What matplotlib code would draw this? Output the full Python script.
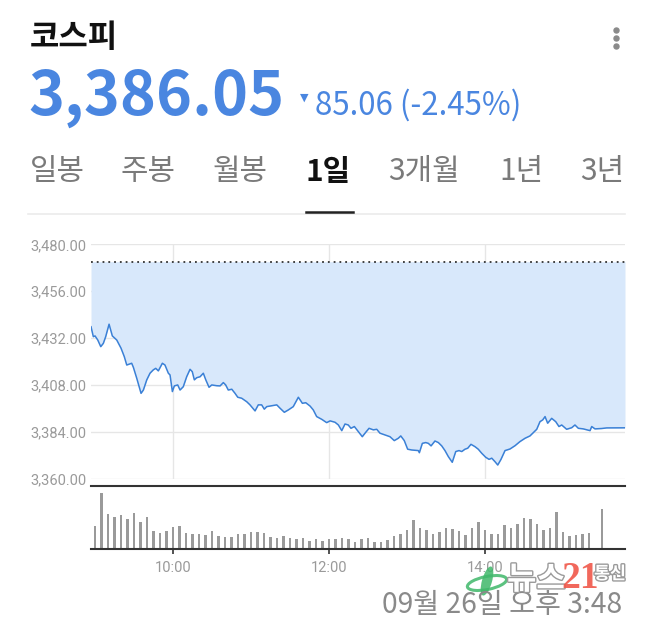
import matplotlib.pyplot as plt
import matplotlib.patheffects as pe
from matplotlib.lines import Line2D
from matplotlib.patches import Ellipse

W, H = 650, 619
KR = ['Noto Sans CJK KR', 'DejaVu Sans']

# intraday KOSPI, minutes after 09:00
times = [-3.1, -1.3, 0, 2.1, 4.4, 6.4, 8.2, 10.8, 13.3, 16.7, 20, 22.5, 24.4,
         28.2, 29.5, 32.1, 35.4, 37.2, 39.8, 42.3, 44.8, 46.7, 48.7, 51.8,
         53.8, 56.4, 57.7, 59.5, 61, 63.6, 65.4, 67.9, 70.5, 73.1, 74.8, 76.4,
         78.2, 80.8, 83.3, 85.2, 87.7, 89.8, 93.6, 96.2, 98.7, 100.5, 102.5,
         105.2, 107.7, 109.8, 112.8, 116.7, 119.2, 123.1, 125.6, 128.2, 130.2,
         132.1, 134.6, 139.8, 142.3, 145.6, 148.7, 152.5, 156.4, 159.5, 162.1,
         165.4, 167.9, 170.5, 174.4, 178.2, 180.8, 184.6, 187.2, 189.8, 192.3,
         194.8, 196.9, 199.5, 202.5, 205.6, 207.7, 210.8, 214.1, 216.7, 219.2,
         223.1, 226.9, 230.2, 233.3, 235.2, 237.9, 240.5, 243.6, 248.7, 249.5,
         251.8, 254.4, 256.4, 258.5, 261.5, 264.1, 266.7, 269.2, 271.8, 274.8,
         277.5, 280, 282.1, 284.6, 286.7, 289.2, 292.3, 294.8, 297.5, 300.5,
         303.1, 305.2, 307.7, 309.8, 312.3, 315.4, 319.2, 323.1, 326.9, 330.8,
         334.6, 337.2, 339.8, 342.3, 344.4, 346.2, 348.2, 351.3, 354.4, 356.9,
         359, 362.8, 366.7, 369.2, 371.8, 375.6, 379, 380.8, 382.1, 384.6,
         389.8, 393.6, 407.7]
prices = [3437.8, 3432.7, 3433.1, 3431.0, 3427.6, 3429.3, 3432.7, 3439.1,
          3433.1, 3431.0, 3426.8, 3422.5, 3418.2, 3419.1, 3417.0, 3411.4,
          3403.7, 3405.4, 3410.6, 3414.0, 3415.7, 3416.5, 3415.2, 3419.1,
          3418.2, 3414.0, 3413.1, 3404.6, 3407.5, 3408.0, 3405.4, 3407.1,
          3412.2, 3416.0, 3414.8, 3410.6, 3411.7, 3412.2, 3414.0, 3410.6,
          3406.8, 3408.0, 3407.6, 3407.5, 3409.2, 3408.0, 3405.4, 3405.8,
          3403.7, 3401.7, 3401.2, 3399.4, 3397.8, 3394.7, 3397.8, 3397.8,
          3395.6, 3396.9, 3397.2, 3397.8, 3396.1, 3394.0, 3395.2, 3396.9,
          3401.7, 3398.6, 3398.9, 3397.2, 3395.2, 3391.8, 3390.4, 3388.7,
          3389.6, 3388.9, 3387.5, 3384.6, 3388.0, 3387.5, 3385.8, 3386.7,
          3384.1, 3381.5, 3383.3, 3385.8, 3385.0, 3385.3, 3383.3, 3382.4,
          3381.5, 3379.5, 3380.7, 3381.9, 3379.5, 3375.1, 3374.7, 3374.4,
          3373.3, 3378.1, 3378.5, 3378.1, 3376.8, 3379.3, 3378.5, 3376.8,
          3374.4, 3371.3, 3368.4, 3373.9, 3374.4, 3373.9, 3375.1, 3375.6,
          3377.6, 3376.4, 3375.1, 3373.0, 3371.0, 3369.9, 3370.5, 3368.7,
          3367.0, 3369.9, 3374.4, 3375.2, 3376.9, 3379.0, 3380.7, 3381.9,
          3383.6, 3385.3, 3389.2, 3390.1, 3391.8, 3388.4, 3390.9, 3389.2,
          3386.7, 3387.5, 3385.3, 3386.1, 3387.5, 3385.8, 3385.5, 3384.9,
          3384.6, 3386.7, 3385.5, 3385.7, 3386.0, 3386.05]
prev_close = 3471.11

# 5-minute volume bars (relative units), last one = closing auction 15:30
vol_times = list(range(0, 385, 5)) + [390]
volumes = [23.3, 56, 35.3, 32, 34.3, 30.3, 36, 27.7, 32, 18.3, 16, 18.3, 22.3,
           23.3, 16.6, 15, 15, 14, 18.3, 13.3, 12.6, 12.6, 15.6, 15.6, 17.3,
           17.3, 16, 12.3, 11, 13.3, 11.6, 10, 11.6, 8.6, 10, 8.6, 10, 10,
           11.6, 10, 7.6, 10.6, 11.6, 7.6, 7.6, 9, 13.3, 15, 19.3, 29.3, 21.6,
           19.3, 15, 17.6, 21.6, 20.3, 18.3, 14, 21.6, 27.6, 19, 15, 15, 24,
           21, 25, 31, 30.3, 25, 19.3, 21.6, 37, 17.3, 13.3, 14.3, 15, 16, 40]

price_ticks = [3360, 3384, 3408, 3432, 3456, 3480]
price_labels = ['3,360.00', '3,384.00', '3,408.00', '3,432.00', '3,456.00', '3,480.00']
time_ticks = [60, 180, 300]
time_labels = ['10:00', '12:00', '14:00']
tabs = ['일봉', '주봉', '월봉', '1일', '3개월', '1년', '3년']
tab_x = [30, 120, 213, 306, 388, 499, 580]

BLUE = '#4a86e0'
LINE = '#3a80d6'
FILL = '#d8e8fb'
GRID = '#e6e6e6'
DARK = '#333333'


def fx(x):
    return x / W


def fy(y):
    return 1 - y / H


fig = plt.figure(figsize=(W / 100, H / 100), dpi=100)

# header
fig.text(fx(30), fy(38), '코스피', family=KR, fontsize=23, fontweight='bold',
         color='#111111', va='center', ha='left')
fig.add_artist(Line2D([fx(616)] * 3, [fy(30), fy(38), fy(46)], ls='', marker='o',
                      ms=3.6, color='#8a8a8a', transform=fig.transFigure))
fig.text(fx(28), fy(115), '3,386.05', family=KR, fontsize=44, fontweight='bold',
         color=BLUE, va='baseline', ha='left')
fig.text(fx(304), fy(98), '▼', family='DejaVu Sans', fontsize=8, color=BLUE,
         va='center', ha='center')
fig.text(fx(315), fy(115), '85.06 (-2.45%)', family=KR, fontsize=22.5,
         color=BLUE, va='baseline', ha='left')

for x, t in zip(tab_x, tabs):
    sel = t == '1일'
    fig.text(fx(x), fy(172), t, family=KR, fontsize=21.5,
             fontweight='bold' if sel else 'normal',
             color='#111111' if sel else '#7a7a7a', va='center', ha='left')
fig.add_artist(Line2D([fx(28), fx(625)], [fy(214), fy(214)], color='#ebebeb',
                      lw=1.2, transform=fig.transFigure))
fig.add_artist(Line2D([fx(306), fx(353)], [fy(212), fy(212)], color='#222222',
                      lw=1.8, transform=fig.transFigure))

# price panel
top, bot = 244.3, 478.7
ax = fig.add_axes([fx(91), fy(bot), (625 - 91) / W, (bot - top) / H])
ax.fill_between(times, prices, prev_close, color=FILL, lw=0)
ax.plot(times, prices, color=LINE, lw=1.1)
ax.axhline(prev_close, color=DARK, lw=1.3, ls=(0, (1, 2.2)))
ax.set_xlim(-3.1, 407.7)
ax.set_ylim(3360, 3480)
ax.set_yticks(price_ticks)
ax.set_yticklabels(price_labels)
ax.set_xticks(time_ticks)
ax.set_xticklabels([])
ax.grid(True, color=GRID, lw=1)
ax.tick_params(length=0)
ax.tick_params(axis='y', pad=44, labelsize=10.5, labelcolor='#9a9a9a')
for lab in ax.get_yticklabels():
    lab.set_horizontalalignment('left')
    lab.set_family('Roboto')
for s in ax.spines.values():
    s.set_visible(False)
ax.set_axisbelow(True)

# volume panel
vtop, vbot = 486, 549.3
vax = fig.add_axes([fx(91), fy(vbot), (625 - 91) / W, (vbot - vtop) / H])
vax.bar(vol_times, volumes, width=2.1, color='#9a9a9a')
vax.set_xlim(-3.1, 407.7)
vax.set_ylim(0, vbot - vtop)
vax.set_yticks([])
vax.set_xticks(time_ticks)
vax.set_xticklabels(time_labels, family='Roboto')
vax.tick_params(axis='x', direction='out', length=3.5, width=1.2, color=DARK,
                pad=5, labelsize=10.5, labelcolor='#9a9a9a')
for side in ('left', 'right'):
    vax.spines[side].set_visible(False)
for side in ('top', 'bottom'):
    vax.spines[side].set_color(DARK)
    vax.spines[side].set_linewidth(1.5)

# timestamp
fig.text(fx(622), fy(605), '09월 26일 오후 3:48', family=KR, fontsize=20.3,
         color='#8a8a8a', va='center', ha='right')

# watermark
fig.add_artist(Ellipse((fx(487), fy(583)), 40 / W, 13 / H, angle=12, fill=False,
                       ec='#3fb86a', lw=2.2, alpha=0.85, transform=fig.transFigure))
fig.add_artist(Ellipse((fx(487), fy(581)), 10 / W, 30 / H, angle=-15,
                       fc='#3fb86a', ec='none', alpha=0.85, transform=fig.transFigure))
stroke = [pe.withStroke(linewidth=2, foreground='#9a9a9a')]
fig.text(fx(507), fy(580), '뉴스', family=KR, fontsize=23, fontweight='bold',
         color='white', va='center', ha='left', path_effects=stroke)
fig.text(fx(561), fy(578), '21', family='Liberation Serif', fontsize=27,
         fontweight='bold', color='#f0584a', va='center', ha='left', alpha=0.9)
fig.text(fx(594), fy(574), '통신', family=KR, fontsize=12.5, fontweight='bold',
         color='white', va='center', ha='left', path_effects=stroke)

fig.savefig('out.png', dpi=100)
